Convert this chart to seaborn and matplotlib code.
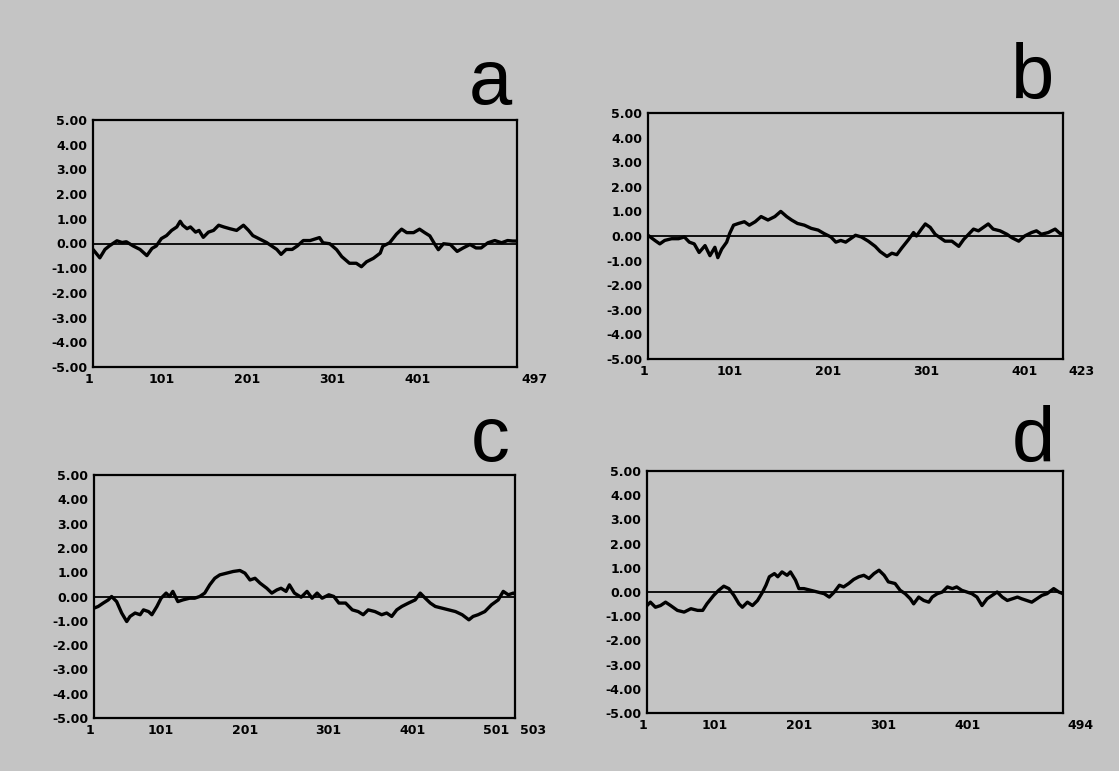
import matplotlib
matplotlib.use("Agg")
import matplotlib.pyplot as plt
import matplotlib.transforms as mtransforms
import seaborn as sns
import pandas as pd

# ---------------- data ----------------
a_res = [1, 9, 15, 20, 29, 35, 40, 48, 56, 64, 70, 75, 81, 87, 93, 99, 103, 106, 111, 115,
         121, 125, 130, 136, 142, 148, 154, 161, 169, 177, 183, 188, 196, 204, 210, 216, 221, 227, 234, 240,
         247, 255, 266, 270, 278, 286, 292, 301, 309, 315, 321, 329, 337, 340, 348, 356, 362, 368, 376, 383,
         389, 395, 401, 405, 411, 419, 427, 434, 442, 449, 455, 463, 471, 479, 486, 492, 497]
a_val = [-0.24, -0.58, -0.24, -0.1, 0.11, 0.04, 0.07, -0.1, -0.24, -0.49, -0.2, -0.1, 0.2, 0.32, 0.53, 0.67, 0.9, 0.74, 0.6, 0.67,
         0.46, 0.53, 0.25, 0.46, 0.53, 0.74, 0.67, 0.6, 0.53, 0.74, 0.53, 0.32, 0.18, 0.04, -0.1, -0.24, -0.44, -0.24, -0.24, -0.1,
         0.12, 0.12, 0.24, 0.03, -0.01, -0.25, -0.53, -0.8, -0.8, -0.94, -0.74, -0.6, -0.39, -0.11, 0.03, 0.38, 0.58, 0.44, 0.44, 0.58,
         0.44, 0.31, -0.04, -0.25, -0.01, -0.04, -0.32, -0.18, -0.04, -0.18, -0.18, 0.03, 0.12, 0.03, 0.12, 0.1, 0.1]

b_res = [1, 8, 13, 18, 25, 32, 38, 43, 48, 53, 59, 64, 69, 72, 76, 81, 84, 88, 93, 99,
         104, 110, 116, 123, 130, 136, 142, 147, 153, 160, 167, 174, 180, 187, 192, 197, 202, 207, 212, 218,
         225, 232, 237, 244, 249, 254, 259, 266, 271, 274, 279, 283, 288, 293, 298, 303, 310, 317, 322, 327,
         332, 337, 342, 347, 352, 359, 366, 371, 378, 384, 391, 396, 401, 408, 415, 420, 423]
b_val = [0.03, -0.18, -0.32, -0.18, -0.11, -0.11, -0.04, -0.25, -0.32, -0.67, -0.39, -0.8, -0.46, -0.88, -0.53, -0.25, 0.1, 0.44, 0.51, 0.58,
         0.44, 0.58, 0.79, 0.65, 0.79, 1.0, 0.79, 0.65, 0.51, 0.44, 0.31, 0.24, 0.1, -0.04, -0.25, -0.18, -0.25, -0.11, 0.03, -0.04,
         -0.21, -0.42, -0.63, -0.83, -0.7, -0.76, -0.49, -0.14, 0.14, 0.0, 0.28, 0.49, 0.35, 0.07, -0.07, -0.21, -0.21, -0.42, -0.14, 0.07,
         0.28, 0.21, 0.35, 0.49, 0.28, 0.21, 0.07, -0.07, -0.21, 0.0, 0.14, 0.21, 0.07, 0.14, 0.28, 0.1, 0.1]

c_res = [1, 6, 12, 18, 22, 28, 34, 40, 44, 50, 56, 60, 66, 70, 76, 81, 87, 91, 95, 101,
         107, 115, 121, 127, 133, 139, 145, 151, 159, 167, 175, 181, 187, 193, 199, 207, 213, 219, 224, 230,
         234, 240, 248, 255, 261, 267, 273, 281, 287, 293, 301, 309, 316, 322, 328, 336, 344, 350, 356, 362,
         368, 376, 384, 390, 396, 402, 408, 416, 424, 432, 440, 448, 453, 459, 467, 475, 483, 489, 495, 501, 503]
c_val = [-0.48, -0.41, -0.27, -0.14, 0.0, -0.21, -0.68, -1.03, -0.82, -0.68, -0.75, -0.55, -0.62, -0.75, -0.41, -0.07, 0.14, 0.0, 0.21, -0.21,
         -0.14, -0.07, -0.07, 0.0, 0.14, 0.48, 0.75, 0.89, 0.96, 1.03, 1.07, 0.96, 0.68, 0.75, 0.55, 0.34, 0.14, 0.27, 0.34, 0.21,
         0.48, 0.14, -0.03, 0.21, -0.07, 0.14, -0.07, 0.07, 0.0, -0.27, -0.27, -0.55, -0.62, -0.75, -0.55, -0.62, -0.75, -0.68, -0.82, -0.55,
         -0.41, -0.27, -0.14, 0.14, -0.07, -0.27, -0.41, -0.48, -0.55, -0.62, -0.75, -0.96, -0.82, -0.75, -0.62, -0.34, -0.14, 0.21, 0.07, 0.14, 0.1]

d_res = [1, 5, 11, 17, 23, 29, 37, 45, 53, 61, 67, 72, 80, 86, 92, 98, 104, 110, 114, 120,
         126, 132, 138, 142, 146, 152, 156, 161, 167, 171, 177, 181, 187, 195, 203, 211, 217, 223, 229, 234,
         240, 246, 252, 258, 264, 270, 276, 282, 287, 295, 301, 307, 313, 317, 323, 329, 335, 339, 345, 351,
         357, 363, 368, 374, 380, 386, 392, 398, 404, 410, 416, 422, 428, 434, 440, 445, 451, 457, 463, 469,
         475, 483, 489, 494]
d_val = [-0.56, -0.42, -0.63, -0.56, -0.42, -0.56, -0.76, -0.83, -0.69, -0.76, -0.76, -0.49, -0.14, 0.07, 0.24, 0.14, -0.14, -0.49, -0.63, -0.42,
         -0.56, -0.35, 0.0, 0.28, 0.63, 0.76, 0.63, 0.83, 0.69, 0.83, 0.49, 0.14, 0.14, 0.07, 0.0, -0.07, -0.21, 0.0, 0.28, 0.21,
         0.35, 0.52, 0.63, 0.69, 0.56, 0.76, 0.9, 0.69, 0.42, 0.35, 0.07, -0.07, -0.28, -0.49, -0.21, -0.35, -0.42, -0.21, -0.07, 0.0,
         0.21, 0.14, 0.21, 0.07, 0.0, -0.07, -0.21, -0.56, -0.28, -0.14, 0.0, -0.21, -0.35, -0.28, -0.21, -0.28, -0.35, -0.42, -0.28, -0.14,
         -0.07, 0.14, 0.0, -0.07]

panel_letters = ["a", "b", "c", "d"]
y_ticks = [-5, -4, -3, -2, -1, 0, 1, 2, 3, 4, 5]
x_ticks_a = [1, 101, 201, 301, 401, 497]
x_ticks_b = [1, 101, 201, 301, 401, 423]
x_ticks_c = [1, 101, 201, 301, 401, 501, 503]
x_ticks_d = [1, 101, 201, 301, 401, 494]

# ---------------- styling ----------------
sns.set_style("white")
plt.rcParams["font.family"] = ["DejaVu Sans"]
BG = "#c4c4c4"
W, H = 1119, 771

fig = plt.figure(figsize=(W / 100, H / 100), dpi=100)
fig.patch.set_facecolor(BG)

# axes boxes in pixels: left, top, right, bottom
boxes = [(93, 120, 517, 367), (648, 113, 1063, 359), (94, 475, 515, 718), (647, 471, 1063, 713)]
letter_pos = [(490, 104), (1033, 99), (490, 461), (1033, 462)]
datasets = [(a_res, a_val, x_ticks_a), (b_res, b_val, x_ticks_b),
            (c_res, c_val, x_ticks_c), (d_res, d_val, x_ticks_d)]

for (l, t, r, b), (res, val, xt), letter, (lx, ly) in zip(boxes, datasets, panel_letters, letter_pos):
    ax = fig.add_axes([l / W, 1 - b / H, (r - l) / W, (b - t) / H])
    ax.set_facecolor(BG)
    df = pd.DataFrame({"residue": res, "hydropathy": val})
    ax.axhline(0, color="black", lw=1.3, zorder=1)
    sns.lineplot(data=df, x="residue", y="hydropathy", ax=ax, color="black",
                 lw=2.4, estimator=None, sort=False, zorder=2)
    ax.set_xlim(xt[0], xt[-1])
    ax.set_ylim(-5, 5)
    ax.set_xlabel("")
    ax.set_ylabel("")
    ax.set_yticks(y_ticks)
    ax.set_yticklabels([f"{v:.2f}" for v in y_ticks])
    ax.set_xticks(xt)
    ax.set_xticklabels([str(v) for v in xt])
    ax.tick_params(direction="in", length=6, width=1.2, labelsize=9, colors="black", pad=4)
    for sp in ax.spines.values():
        sp.set_visible(True)
        sp.set_color("black")
        sp.set_linewidth(1.6)
    for lab in ax.get_yticklabels():
        lab.set_fontweight("bold")
    labs = ax.get_xticklabels()
    n = len(labs)
    for i, lab in enumerate(labs):
        lab.set_fontweight("bold")
        if i == 0:
            dx = -4
        elif i == n - 1:
            dx = 18
        else:
            dx = -17
        off = mtransforms.ScaledTranslation(dx / 100, 0, fig.dpi_scale_trans)
        lab.set_transform(lab.get_transform() + off)
    fig.text(lx / W, 1 - ly / H, letter, fontsize=56, family="Liberation Sans",
             ha="center", va="baseline", color="black")

fig.savefig("out.png", dpi=100, facecolor=BG)
